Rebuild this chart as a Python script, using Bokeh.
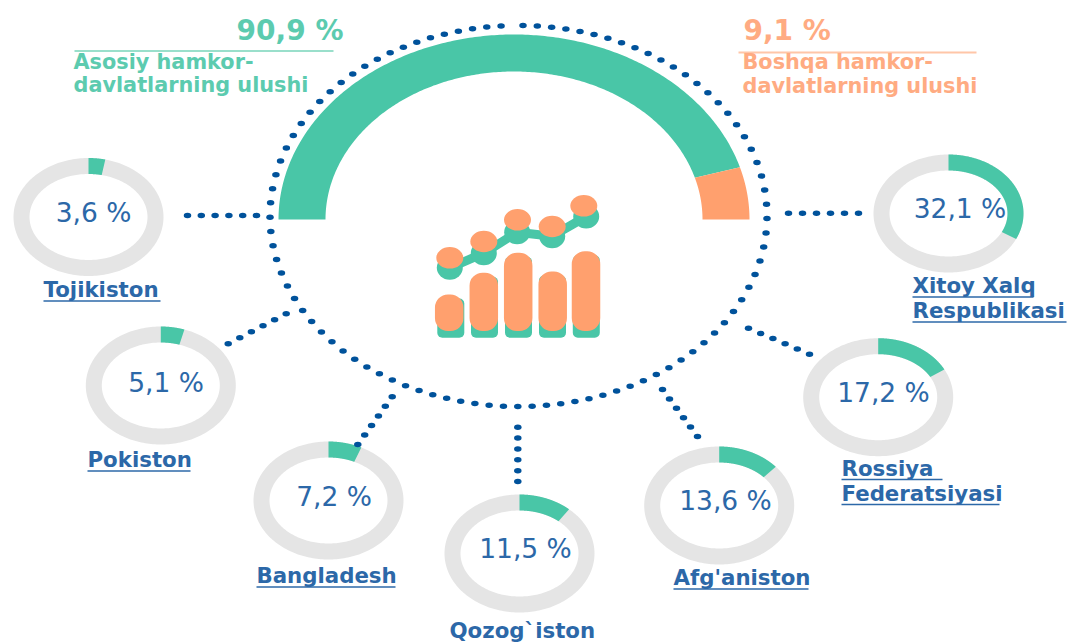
import numpy as np
from bokeh.plotting import figure
from bokeh.models import Range1d
from bokeh.core.properties import value
from bokeh.embed import file_html
from bokeh.resources import INLINE

# ---- data
countries = ["Tojikiston", "Pokiston", "Bangladesh", "Qozog`iston", "Afg'aniston", "Rossiya Federatsiyasi", "Xitoy Xalq Respublikasi"]
shares = [3.6, 5.1, 7.2, 11.5, 13.6, 17.2, 32.1]
share_labels = ["3,6 %", "5,1 %", "7,2 %", "11,5 %", "13,6 %", "17,2 %", "32,1 %"]
main_share = 90.9
other_share = 9.1
main_title = ["Asosiy hamkor-", "davlatlarning ulushi"]
other_title = ["Boshqa hamkor-", "davlatlarning ulushi"]
icon_bar_tops = [294, 272.3, 252.3, 271, 250.7]
icon_line_y = [267.3, 252.7, 231.7, 235.7, 216]
icon_dot_y = [257.3, 241, 219.3, 226, 205.3]

# ---- layout and style
W, H = 1070, 644
GREEN, ORANGE, GREY = "#49C6A7", "#FFA06E", "#E5E5E5"
DOT, BLUE = "#00529B", "#2C68A8"
GREEN_L, ORANGE_L = "#9ADFCB", "#FFC6A8"
GREEN_T, ORANGE_T = "#5CCBAF", "#FFAB82"
FONT = value("DejaVu Sans")
LIFT = 0.40  # alphabetic baseline correction of the text glyph, in font sizes

donut_cx = [88, 160.3, 328, 519, 718.7, 877.7, 948]
donut_cy = [216.5, 385, 500, 553, 505, 396.7, 213]
RX, RY, RING = 75, 59, 16
pct_x = [93, 165.5, 333.5, 525, 725, 883, 959.5]
pct_y = [223, 393, 507, 559, 511, 403, 219]
names = [["Tojikiston"], ["Pokiston"], ["Bangladesh"], ["Qozog`iston"], ["Afg'aniston"],
         ["Rossiya ", "Federatsiyasi"], ["Xitoy Xalq", "Respublikasi"]]
name_x = [43, 87, 256, 449, 673, 841, 912]
name_y = [[298], [468], [584], [639], [586], [476.5, 501.5], [294, 319]]
name_w = [[117], [103], [139], [0], [135], [101, 158], [121, 154]]
connectors = [((187, 215), (256, 215)), ((227.7, 343.3), (285.7, 313.3)), ((357.3, 444), (391.7, 396.3)),
              ((517.3, 481), (517.3, 426.7)), ((697, 436), (662, 389)), ((809, 353.7), (748, 327.7)),
              ((788, 212.7), (858, 212.7))]


def band(cx, cy, rxo, ryo, rxi, ryi, a0, a1):
    t = np.radians(np.linspace(a0, a1, 241))
    xs = np.r_[cx + rxo * np.sin(t), cx + rxi * np.sin(t[::-1])]
    ys = np.r_[cy - ryo * np.cos(t), cy - ryi * np.cos(t[::-1])]
    return xs, ys


def put(xs, ys, texts, size, color, bold=False, align="left"):
    p.text(xs, [y - LIFT * size for y in ys], text=texts, text_font=FONT, text_font_size=f"{size}px",
           text_font_style="bold" if bold else "normal", text_color=color,
           text_align=align, text_baseline="alphabetic")


p = figure(width=W, height=H, output_backend="svg", toolbar_location=None,
           x_range=Range1d(0, W), y_range=Range1d(H, 0),
           x_axis_type=None, y_axis_type=None, min_border=0, outline_line_color=None,
           background_fill_color="white", border_fill_color="white")
p.grid.visible = False

# big gauge
gx, gy = 513.5, 219
split = -90 + 180 * main_share / (main_share + other_share)
p.patch(*band(gx, gy, 235.5, 185, 188.5, 148, -90, split), fill_color=GREEN, line_color=None)
p.patch(*band(gx, gy, 235.5, 185, 188.5, 148, split, 90), fill_color=ORANGE, line_color=None)

# donuts
for cx, cy, s in zip(donut_cx, donut_cy, shares):
    p.patch(*band(cx, cy, RX, RY, RX - RING, RY - RING, 0, 360), fill_color=GREY, line_color=None)
    p.patch(*band(cx, cy, RX, RY, RX - RING, RY - RING, 0, 3.6 * s), fill_color=GREEN, line_color=None)

# dotted ring, equal spacing along the ellipse
t = np.radians(np.linspace(0, 360, 3601))
ex, ey = 518 + 248.5 * np.sin(t), 215.5 - 190.5 * np.cos(t)
arc = np.r_[0, np.cumsum(np.hypot(np.diff(ex), np.diff(ey)))]
d = np.arange(4.5, arc[-1] - 5, 14.35)
p.ellipse(np.interp(d, arc, ex), np.interp(d, arc, ey), width=7.5, height=5.5, fill_color=DOT, line_color=None)

# connector dots
cx_, cy_ = [], []
for (a, b) in connectors:
    cx_ += list(np.linspace(a[0], b[0], 6))
    cy_ += list(np.linspace(a[1], b[1], 6))
p.ellipse(cx_, cy_, width=7.5, height=5.5, fill_color=DOT, line_color=None)

# icon
gbx = [450.3, 484, 518, 552, 585.8]
obx = [448.7, 483.3, 517.7, 552.2, 585.5]
p.vbar(x=gbx, width=27, top=[t_ + 4 for t_ in icon_bar_tops], bottom=337.3, fill_color=GREEN, line_color=None, border_radius=5)
p.vbar(x=obx, width=28.5, top=icon_bar_tops, bottom=330.5, fill_color=ORANGE, line_color=None, border_radius=13)
lx = [449.3, 483.3, 516.7, 551.7, 585.7]
odx = [449.3, 483.3, 517, 551.7, 583.3]
p.line(lx, icon_line_y, line_color=GREEN, line_width=9)
p.ellipse(lx, icon_line_y, width=26, height=24, fill_color=GREEN, line_color=None)
p.ellipse(odx, icon_dot_y, width=27, height=21.5, fill_color=ORANGE, line_color=None)

# header
put([343], [41.5], [f"{main_share:.1f} %".replace(".", ",")], 28, GREEN_T, True, "right")
p.line([74, 333], [50.5, 50.5], line_color=GREEN_L, line_width=2)
put([73, 73], [69.5, 92.5], main_title, 20.8, GREEN_T, True)
put([743], [41.5], [f"{other_share:.1f} %".replace(".", ",")], 28, ORANGE_T, True)
p.line([738, 976], [52, 52], line_color=ORANGE_L, line_width=2)
put([742, 742], [70, 94], other_title, 20.8, ORANGE_T, True)

# donut values and names
put(pct_x, pct_y, share_labels, 26.5, BLUE, False, "center")
for nm, x, ys, ws in zip(names, name_x, name_y, name_w):
    for s, y, w in zip(nm, ys, ws):
        put([x], [y], [s], 21.3, BLUE, True)
        if w:
            p.line([x, x + w], [y + 2.5, y + 2.5], line_color=BLUE, line_width=1.5)

open("out.html", "w").write(file_html(p, INLINE))
